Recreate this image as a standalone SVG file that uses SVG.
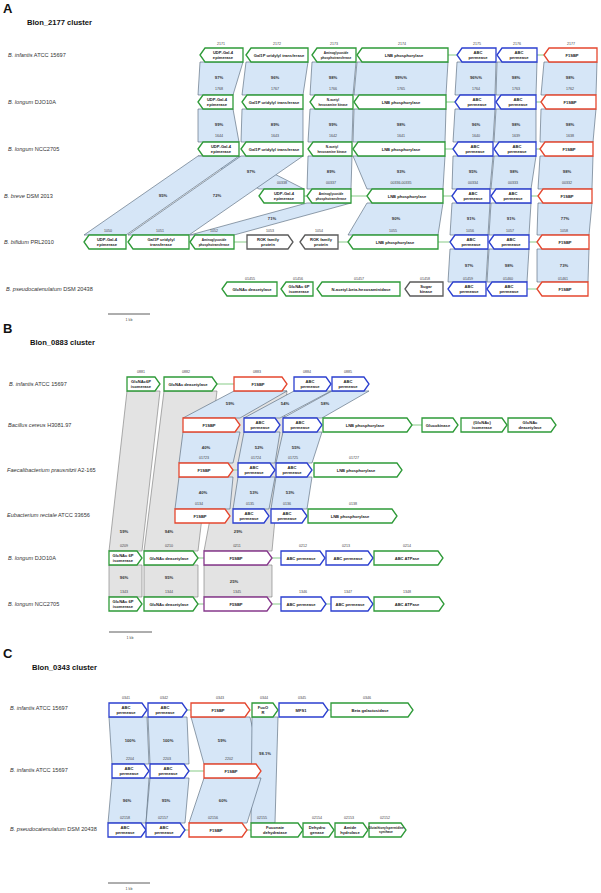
<svg xmlns="http://www.w3.org/2000/svg" width="601" height="893" viewBox="0 0 601 893">
<style>
text{font-family:"Liberation Sans",Arial,sans-serif}
.g,.b,.r,.k,.p{fill:#fff;stroke-width:1.3;stroke-linejoin:miter}
.g{stroke:#2e9a38}.b{stroke:#2b3fcf}.r{stroke:#e5472f}.k{stroke:#5a5a5a}.p{stroke:#86388c}
.band{fill:#d6e6f7;stroke:#4e5f72;stroke-width:0.6}
.gband{fill:#e3e3e3;stroke:#777;stroke-width:0.6}
.ln{stroke:#9bd49b;stroke-width:1.2}
.t{font-size:4.1px;font-weight:bold;text-anchor:middle;fill:#222}
.s{font-size:3.2px;font-weight:bold;text-anchor:middle;fill:#222}
.n{font-size:3.6px;text-anchor:middle;fill:#444}
.pc{font-size:4.2px;font-weight:bold;text-anchor:middle;fill:#333}
.sp{font-size:5.6px;fill:#333}
.ttl{font-size:7.6px;font-weight:bold;fill:#111}
.big{font-size:13px;font-weight:bold;fill:#111}
.sc{stroke:#333;stroke-width:0.8}
</style>

<!-- ================= PANEL A ================= -->
<text class="big" x="3" y="13">A</text>
<text class="ttl" x="27" y="25">Blon_2177 cluster</text>
<g id="A-labels">
<text class="sp" x="8" y="57"><tspan font-style="italic">B. infantis</tspan> ATCC 15697</text>
<text class="sp" x="8" y="104"><tspan font-style="italic">B. longum</tspan> DJO10A</text>
<text class="sp" x="8" y="151"><tspan font-style="italic">B. longum</tspan> NCC2705</text>
<text class="sp" x="4" y="198"><tspan font-style="italic">B. breve</tspan> DSM 2013</text>
<text class="sp" x="4" y="244"><tspan font-style="italic">B. bifidum</tspan> PRL2010</text>
<text class="sp" x="6" y="291"><tspan font-style="italic">B. pseudocatenulatum</tspan> DSM 20438</text>
</g>

<g id="A-connectors">
<polygon class="band" points="200,62 243,62 233,95 198,95"/>
<polygon class="band" points="246,62 308,62 303,95 242,95"/>
<polygon class="band" points="312,62 356,62 353,95 310,95"/>
<polygon class="band" points="357,62 448,62 446,95 354,95"/>
<polygon class="band" points="457,62 496,62 495,95 455,95"/>
<polygon class="band" points="497,62 537,62 536,95 496,95"/>
<polygon class="band" points="544,62 597,62 596,95 541,95"/>
<polygon class="band" points="198,109 233,109 239,142 198,142"/>
<polygon class="band" points="242,109 303,109 303,142 241,142"/>
<polygon class="band" points="310,109 353,109 352,142 308,142"/>
<polygon class="band" points="354,109 446,109 445,142 353,142"/>
<polygon class="band" points="455,109 495,109 493,142 453,142"/>
<polygon class="band" points="496,109 536,109 536,142 494,142"/>
<polygon class="band" points="541,109 596,109 593,142 540,142"/>
<polygon class="band" points="198,156 239,156 304,189 259,189"/>
<polygon class="band" points="198,156 239,156 126,235 84,235"/>
<polygon class="band" points="241,156 303,156 189,235 128,235"/>
<polygon class="band" points="308,156 352,156 351,189 307,189"/>
<polygon class="band" points="353,156 445,156 443,189 367,189"/>
<polygon class="band" points="453,156 493,156 490,189 452,189"/>
<polygon class="band" points="494,156 536,156 531,189 491,189"/>
<polygon class="band" points="540,156 593,156 592,189 538,189"/>
<polygon class="band" points="307,203 351,203 234,235 190,235"/>
<polygon class="band" points="367,203 443,203 438,235 348,235"/>
<polygon class="band" points="452,203 490,203 488,235 450,235"/>
<polygon class="band" points="491,203 531,203 529,235 489,235"/>
<polygon class="band" points="538,203 592,203 589,235 537,235"/>
<polygon class="band" points="450,249 488,249 486,282 448,282"/>
<polygon class="band" points="489,249 529,249 527,282 487,282"/>
<polygon class="band" points="537,249 589,249 588,282 537,282"/>
<line class="ln" x1="448" y1="55" x2="457" y2="55"/>
<line class="ln" x1="537" y1="55" x2="544" y2="55"/>
<line class="ln" x1="446" y1="102" x2="455" y2="102"/>
<line class="ln" x1="536" y1="102" x2="541" y2="102"/>
<line class="ln" x1="445" y1="149" x2="453" y2="149"/>
<line class="ln" x1="536" y1="149" x2="540" y2="149"/>
<line class="ln" x1="304" y1="196" x2="307" y2="196"/>
<line class="ln" x1="351" y1="196" x2="367" y2="196"/>
<line class="ln" x1="443" y1="196" x2="452" y2="196"/>
<line class="ln" x1="531" y1="196" x2="538" y2="196"/>
<line class="ln" x1="234" y1="242" x2="247" y2="242"/>
<line class="ln" x1="338" y1="242" x2="348" y2="242"/>
<line class="ln" x1="438" y1="242" x2="450" y2="242"/>
<line class="ln" x1="529" y1="242" x2="537" y2="242"/>
<line class="ln" x1="527" y1="289" x2="537" y2="289"/>
<g id="A-pct">
<text class="pc" x="219" y="79">97%</text><text class="pc" x="275" y="79">96%</text><text class="pc" x="333" y="79">98%</text><text class="pc" x="401" y="79">99%%</text><text class="pc" x="476" y="79">96%%</text><text class="pc" x="516" y="79">98%</text><text class="pc" x="570" y="79">98%</text>
<text class="n" x="219" y="90">1768</text><text class="n" x="275" y="90">1767</text><text class="n" x="333" y="90">1766</text><text class="n" x="401" y="90">1765</text><text class="n" x="476" y="90">1764</text><text class="n" x="516" y="90">1763</text><text class="n" x="570" y="90">1762</text>
<text class="pc" x="219" y="126">99%</text><text class="pc" x="275" y="126">89%</text><text class="pc" x="333" y="126">99%</text><text class="pc" x="401" y="126">98%</text><text class="pc" x="476" y="126">96%</text><text class="pc" x="516" y="126">98%</text><text class="pc" x="570" y="126">98%</text>
<text class="n" x="219" y="137">1644</text><text class="n" x="275" y="137">1643</text><text class="n" x="333" y="137">1642</text><text class="n" x="401" y="137">1641</text><text class="n" x="476" y="137">1640</text><text class="n" x="516" y="137">1639</text><text class="n" x="570" y="137">1638</text>
<text class="pc" x="251" y="173">97%</text><text class="pc" x="331" y="173">89%</text><text class="pc" x="401" y="173">93%</text><text class="pc" x="473" y="173">95%</text><text class="pc" x="514" y="173">98%</text><text class="pc" x="567" y="173">98%</text>
<text class="n" x="282" y="184">00338</text><text class="n" x="331" y="184">00337</text><text class="n" x="401" y="184">00336-00335</text><text class="n" x="473" y="184">00334</text><text class="n" x="513" y="184">00333</text><text class="n" x="567" y="184">00332</text>
<text class="pc" x="163" y="197">95%</text><text class="pc" x="217" y="197">72%</text>
<text class="pc" x="272" y="220">71%</text><text class="pc" x="396" y="220">90%</text><text class="pc" x="471" y="220">91%</text><text class="pc" x="511" y="220">91%</text><text class="pc" x="565" y="220">77%</text>
<text class="pc" x="469" y="267">97%</text><text class="pc" x="509" y="267">98%</text><text class="pc" x="564" y="267">73%</text>
</g>
</g>

<g id="A-nums">
<text class="n" x="221" y="45">2171</text><text class="n" x="277" y="45">2172</text><text class="n" x="334" y="45">2173</text><text class="n" x="402" y="45">2174</text><text class="n" x="477" y="45">2175</text><text class="n" x="517" y="45">2176</text><text class="n" x="571" y="45">2177</text>
<text class="n" x="108" y="232">1050</text><text class="n" x="160" y="232">1051</text><text class="n" x="214" y="232">1052</text><text class="n" x="270" y="232">1053</text><text class="n" x="319" y="232">1054</text><text class="n" x="393" y="232">1055</text><text class="n" x="470" y="232">1056</text><text class="n" x="510" y="232">1057</text><text class="n" x="564" y="232">1058</text>
<text class="n" x="250" y="280">01455</text><text class="n" x="298" y="280">01456</text><text class="n" x="359" y="280">01457</text><text class="n" x="425" y="280">01458</text><text class="n" x="468" y="280">01459</text><text class="n" x="508" y="280">01460</text><text class="n" x="563" y="280">01461</text>
</g>

<!-- Row A1 -->
<g id="a1-2171"><polygon class="g" points="200,55 205,48 243,48 243,62 205,62"/><text class="t" x="223" y="54">UDP-Gal-4</text><text class="t" x="223" y="59">epimerase</text></g>
<g id="a1-2172"><polygon class="g" points="246,55 251,48 308,48 308,62 251,62"/><text class="t" x="279" y="56.5" font-size="3.7">Gal1P uridylyl transferase</text></g>
<g id="a1-2173"><polygon class="g" points="312,55 317,48 356,48 356,62 317,62"/><text class="s" x="336" y="54">Aminoglycoside</text><text class="s" x="336" y="58.5" font-size="2.9">phosphotransferase</text></g>
<g id="a1-2174"><polygon class="g" points="357,55 362,48 448,48 448,62 362,62"/><text class="t" x="404" y="56.5">LNB phosphorylase</text></g>
<g id="a1-2175"><polygon class="b" points="457,55 462,48 496,48 496,62 462,62"/><text class="t" x="478" y="54">ABC</text><text class="t" x="478" y="59">permease</text></g>
<g id="a1-2176"><polygon class="b" points="497,55 502,48 537,48 537,62 502,62"/><text class="t" x="519" y="54">ABC</text><text class="t" x="519" y="59">permease</text></g>
<g id="a1-2177"><polygon class="r" points="544,55 549,48 597,48 597,62 549,62"/><text class="t" x="572" y="56.5">F1SBP</text></g>
<!-- Row A2 -->
<g id="a2-1"><polygon class="g" points="198,102 203,95 233,95 233,109 203,109"/><text class="t" x="217" y="101">UDP-Gal-4</text><text class="t" x="217" y="106">epimerase</text></g>
<g id="a2-2"><polygon class="g" points="242,102 247,95 303,95 303,109 247,109"/><text class="t" x="274" y="103.5" font-size="3.6">Gal1P uridylyl transferase</text></g>
<g id="a2-3"><polygon class="g" points="310,102 315,95 353,95 353,109 315,109"/><text class="s" x="333" y="101">N-acetyl</text><text class="s" x="333" y="105.5">hexosamine kinase</text></g>
<g id="a2-4"><polygon class="g" points="354,102 359,95 446,95 446,109 359,109"/><text class="t" x="401" y="103.5">LNB phosphorylase</text></g>
<g id="a2-5"><polygon class="b" points="455,102 460,95 495,95 495,109 460,109"/><text class="t" x="477" y="101">ABC</text><text class="t" x="477" y="106">permease</text></g>
<g id="a2-6"><polygon class="b" points="496,102 501,95 536,95 536,109 501,109"/><text class="t" x="518" y="101">ABC</text><text class="t" x="518" y="106">permease</text></g>
<g id="a2-7"><polygon class="r" points="541,102 546,95 596,95 596,109 546,109"/><text class="t" x="570" y="103.5">F1SBP</text></g>
<!-- Row A3 -->
<g id="a3-1"><polygon class="g" points="198,149 203,142 239,142 239,156 203,156"/><text class="t" x="221" y="148">UDP-Gal-4</text><text class="t" x="221" y="153">epimerase</text></g>
<g id="a3-2"><polygon class="g" points="241,149 246,142 303,142 303,156 246,156"/><text class="t" x="274" y="150.5" font-size="3.6">Gal1P uridylyl transferase</text></g>
<g id="a3-3"><polygon class="g" points="308,149 313,142 352,142 352,156 313,156"/><text class="s" x="332" y="148">N-acetyl</text><text class="s" x="332" y="152.5">hexosamine kinase</text></g>
<g id="a3-4"><polygon class="g" points="353,149 358,142 445,142 445,156 358,156"/><text class="t" x="401" y="150.5">LNB phosphorylase</text></g>
<g id="a3-5"><polygon class="b" points="453,149 458,142 493,142 493,156 458,156"/><text class="t" x="475" y="148">ABC</text><text class="t" x="475" y="153">permease</text></g>
<g id="a3-6"><polygon class="b" points="494,149 499,142 536,142 536,156 499,156"/><text class="t" x="517" y="148">ABC</text><text class="t" x="517" y="153">permease</text></g>
<g id="a3-7"><polygon class="r" points="540,149 545,142 593,142 593,156 545,156"/><text class="t" x="569" y="150.5">F1SBP</text></g>
<!-- Row A4 -->
<g id="a4-1"><polygon class="g" points="259,196 264,189 304,189 304,203 264,203"/><text class="t" x="284" y="195">UDP-Gal-4</text><text class="t" x="284" y="200">epimerase</text></g>
<g id="a4-2"><polygon class="g" points="307,196 312,189 351,189 351,203 312,203"/><text class="s" x="331" y="195">Aminoglycoside</text><text class="s" x="331" y="199.5" font-size="2.9">phosphotransferase</text></g>
<g id="a4-3"><polygon class="g" points="367,196 372,189 443,189 443,203 372,203"/><text class="t" x="407" y="197.5">LNB phosphorylase</text></g>
<g id="a4-4"><polygon class="b" points="452,196 457,189 490,189 490,203 457,203"/><text class="t" x="473" y="195">ABC</text><text class="t" x="473" y="200">permease</text></g>
<g id="a4-5"><polygon class="b" points="491,196 496,189 531,189 531,203 496,203"/><text class="t" x="513" y="195">ABC</text><text class="t" x="513" y="200">permease</text></g>
<g id="a4-6"><polygon class="r" points="538,196 543,189 592,189 592,203 543,203"/><text class="t" x="567" y="197.5">F1SBP</text></g>
<!-- Row A5 -->
<g id="a5-1050"><polygon class="g" points="84,242 89,235 126,235 126,249 89,249"/><text class="t" x="107" y="241">UDP-Gal-4</text><text class="t" x="107" y="246">epimerase</text></g>
<g id="a5-1051"><polygon class="g" points="128,242 133,235 189,235 189,249 133,249"/><text class="t" x="161" y="241">Gal1P uridylyl</text><text class="t" x="161" y="246">transferase</text></g>
<g id="a5-1052"><polygon class="g" points="190,242 195,235 234,235 234,249 195,249"/><text class="s" x="214" y="241">Aminoglycoside</text><text class="s" x="214" y="245.5" font-size="2.9">phosphotransferase</text></g>
<g id="a5-1053"><polygon class="k" points="247,235 288,235 293,242 288,249 247,249"/><text class="t" x="268" y="241">ROK family</text><text class="t" x="268" y="246">protein</text></g>
<g id="a5-1054"><polygon class="k" points="300,242 305,235 338,235 338,249 305,249"/><text class="t" x="321" y="241">ROK family</text><text class="t" x="321" y="246">protein</text></g>
<g id="a5-1055"><polygon class="g" points="348,242 353,235 438,235 438,249 353,249"/><text class="t" x="395" y="243.5">LNB phosphorylase</text></g>
<g id="a5-1056"><polygon class="b" points="450,242 455,235 488,235 488,249 455,249"/><text class="t" x="471" y="241">ABC</text><text class="t" x="471" y="246">permease</text></g>
<g id="a5-1057"><polygon class="b" points="489,242 494,235 529,235 529,249 494,249"/><text class="t" x="511" y="241">ABC</text><text class="t" x="511" y="246">permease</text></g>
<g id="a5-1058"><polygon class="r" points="537,242 542,235 589,235 589,249 542,249"/><text class="t" x="565" y="243.5">F1SBP</text></g>
<!-- Row A6 -->
<g id="a6-01455"><polygon class="g" points="222,289 227,282 277,282 277,296 227,296"/><text class="t" x="252" y="290.5">GlcNAc deacetylase</text></g>
<g id="a6-01456"><polygon class="g" points="281,289 286,282 313,282 313,296 286,296"/><text class="t" x="299" y="288" font-size="3.6">GlcNAc 6P</text><text class="t" x="299" y="293" font-size="3.6">isomerase</text></g>
<g id="a6-01457"><polygon class="g" points="317,289 322,282 400,282 400,296 322,296"/><text class="t" x="361" y="290.5" font-size="3.8">N-acetyl-beta-hexosaminidase</text></g>
<g id="a6-01458"><polygon class="k" points="405,289 410,282 443,282 443,296 410,296"/><text class="t" x="426" y="288">Sugar</text><text class="t" x="426" y="293">kinase</text></g>
<g id="a6-01459"><polygon class="b" points="448,289 453,282 486,282 486,296 453,296"/><text class="t" x="469" y="288">ABC</text><text class="t" x="469" y="293">permease</text></g>
<g id="a6-01460"><polygon class="b" points="487,289 492,282 527,282 527,296 492,296"/><text class="t" x="509" y="288">ABC</text><text class="t" x="509" y="293">permease</text></g>
<g id="a6-01461"><polygon class="r" points="537,289 542,282 588,282 588,296 542,296"/><text class="t" x="565" y="290.5">F1SBP</text></g>
<g id="A-scale"><line class="sc" x1="108" y1="314" x2="150" y2="314"/><text class="n" x="129" y="321">1 kb</text></g>

<!-- ================= PANEL B ================= -->
<text class="big" x="3" y="333">B</text>
<text class="ttl" x="30" y="345">Blon_0883 cluster</text>
<g id="B-labels">
<text class="sp" x="9" y="386"><tspan font-style="italic">B. infantis</tspan> ATCC 15697</text>
<text class="sp" x="8" y="427"><tspan font-style="italic">Bacillus cereus</tspan> H3081.97</text>
<text class="sp" x="7" y="472"><tspan font-style="italic">Faecalibacterium prausnitzii</tspan> A2-165</text>
<text class="sp" x="7" y="517"><tspan font-style="italic">Eubacterium rectale</tspan> ATCC 33656</text>
<text class="sp" x="8" y="560"><tspan font-style="italic">B. longum</tspan> DJO10A</text>
<text class="sp" x="8" y="606"><tspan font-style="italic">B. longum</tspan> NCC2705</text>
</g>
<g id="B-connectors">
<polygon class="gband" points="127,391 160,391 142,551 109,551"/>
<polygon class="gband" points="164,391 217,391 198,551 144,551"/>
<polygon class="gband" points="234,391 287,391 272,551 204,551"/>
<polygon class="gband" points="109,565 142,565 142,597 109,597"/>
<polygon class="gband" points="144,565 198,565 198,597 144,597"/>
<polygon class="gband" points="204,565 272,565 272,597 204,597"/>
<polygon class="band" points="234,391 287,391 240,418 183,418"/>
<polygon class="band" points="294,391 331,391 280,418 244,418"/>
<polygon class="band" points="332,391 369,391 322,418 283,418"/>
<polygon class="band" points="183,432 240,432 233,463 179,463"/>
<polygon class="band" points="244,432 280,432 275,463 238,463"/>
<polygon class="band" points="283,432 322,432 312,463 276,463"/>
<polygon class="band" points="179,477 233,477 230,509 175,509"/>
<polygon class="band" points="238,477 275,477 269,509 233,509"/>
<polygon class="band" points="276,477 312,477 307,509 271,509"/>
<line class="ln" x1="217" y1="384" x2="234" y2="384"/>
<line class="ln" x1="412" y1="425" x2="422" y2="425"/>
<line class="ln" x1="233" y1="470" x2="238" y2="470"/>
<line class="ln" x1="198" y1="558" x2="204" y2="558"/>
<line class="ln" x1="272" y1="558" x2="281" y2="558"/>
<line class="ln" x1="198" y1="604" x2="204" y2="604"/>
<line class="ln" x1="272" y1="604" x2="281" y2="604"/>
<line class="ln" x1="326" y1="604" x2="331" y2="604"/>
<g id="B-pct">
<text class="pc" x="230" y="405">59%</text><text class="pc" x="285" y="405">54%</text><text class="pc" x="325" y="405">58%</text>
<text class="pc" x="206" y="449">40%</text><text class="pc" x="259" y="449">52%</text><text class="pc" x="296" y="449">55%</text>
<text class="pc" x="203" y="494">40%</text><text class="pc" x="254" y="494">53%</text><text class="pc" x="290" y="494">53%</text>
<text class="pc" x="124" y="533">59%</text><text class="pc" x="169" y="533">94%</text><text class="pc" x="238" y="533">29%</text>
<text class="pc" x="124" y="579">96%</text><text class="pc" x="169" y="579">95%</text><text class="pc" x="234" y="583">25%</text>
</g>
</g>
<g id="B-nums">
<text class="n" x="141" y="373">0881</text><text class="n" x="186" y="373">0882</text><text class="n" x="257" y="373">0883</text><text class="n" x="307" y="373">0884</text><text class="n" x="348" y="373">0885</text>
<text class="n" x="204" y="459">01723</text><text class="n" x="256" y="459">01724</text><text class="n" x="293" y="459">01725</text><text class="n" x="354" y="459">01727</text>
<text class="n" x="199" y="505">0134</text><text class="n" x="250" y="505">0135</text><text class="n" x="287" y="505">0136</text><text class="n" x="353" y="505">0138</text>
<text class="n" x="124" y="547">0209</text><text class="n" x="169" y="547">0210</text><text class="n" x="237" y="547">0211</text><text class="n" x="303" y="547">0212</text><text class="n" x="346" y="547">0213</text><text class="n" x="407" y="547">0214</text>
<text class="n" x="124" y="593">1343</text><text class="n" x="169" y="593">1344</text><text class="n" x="237" y="593">1345</text><text class="n" x="303" y="593">1346</text><text class="n" x="348" y="593">1347</text><text class="n" x="407" y="593">1348</text>
</g>
<!-- B1 -->
<g id="b1-0881"><polygon class="g" points="127,377 155,377 160,384 155,391 127,391"/><text class="t" x="141" y="383" font-size="3.7">GlcNAc6P</text><text class="t" x="141" y="388" font-size="3.7">isomerase</text></g>
<g id="b1-0882"><polygon class="g" points="164,377 212,377 217,384 212,391 164,391"/><text class="t" x="188" y="385.5" font-size="3.7">GlcNAc deacetylase</text></g>
<g id="b1-0883"><polygon class="r" points="234,377 282,377 287,384 282,391 234,391"/><text class="t" x="258" y="385.5">F1SBP</text></g>
<g id="b1-0884"><polygon class="b" points="294,377 326,377 331,384 326,391 294,391"/><text class="t" x="310" y="383">ABC</text><text class="t" x="310" y="388">permease</text></g>
<g id="b1-0885"><polygon class="b" points="332,377 364,377 369,384 364,391 332,391"/><text class="t" x="348" y="383">ABC</text><text class="t" x="348" y="388">permease</text></g>
<!-- B2 -->
<g id="b2-1"><polygon class="r" points="183,418 235,418 240,425 235,432 183,432"/><text class="t" x="209" y="426.5">F1SBP</text></g>
<g id="b2-2"><polygon class="b" points="244,418 275,418 280,425 275,432 244,432"/><text class="t" x="260" y="424">ABC</text><text class="t" x="260" y="429">permease</text></g>
<g id="b2-3"><polygon class="b" points="283,418 317,418 322,425 317,432 283,432"/><text class="t" x="300" y="424">ABC</text><text class="t" x="300" y="429">permease</text></g>
<g id="b2-4"><polygon class="g" points="323,418 407,418 412,425 407,432 323,432"/><text class="t" x="365" y="426.5">LNB phosphorylase</text></g>
<g id="b2-5"><polygon class="g" points="422,418 453,418 458,425 453,432 422,432"/><text class="t" x="438" y="426.5">Glucokinase</text></g>
<g id="b2-6"><polygon class="g" points="461,418 502,418 507,425 502,432 461,432"/><text class="t" x="482" y="424">(GlcNAc)</text><text class="t" x="482" y="429">isomerase</text></g>
<g id="b2-7"><polygon class="g" points="508,418 551,418 556,425 551,432 508,432"/><text class="t" x="530" y="424">GlcNAc</text><text class="t" x="530" y="429">deacetylase</text></g>
<!-- B3 -->
<g id="b3-01723"><polygon class="r" points="179,463 228,463 233,470 228,477 179,477"/><text class="t" x="204" y="471.5">F1SBP</text></g>
<g id="b3-01724"><polygon class="b" points="238,463 270,463 275,470 270,477 238,477"/><text class="t" x="254" y="469">ABC</text><text class="t" x="254" y="474">permease</text></g>
<g id="b3-01725"><polygon class="b" points="276,463 307,463 312,470 307,477 276,477"/><text class="t" x="292" y="469">ABC</text><text class="t" x="292" y="474">permease</text></g>
<g id="b3-01727"><polygon class="g" points="314,463 397,463 402,470 397,477 314,477"/><text class="t" x="356" y="471.5">LNB phosphorylase</text></g>
<!-- B4 -->
<g id="b4-0134"><polygon class="r" points="175,509 225,509 230,516 225,523 175,523"/><text class="t" x="200" y="517.5">F1SBP</text></g>
<g id="b4-0135"><polygon class="b" points="233,509 264,509 269,516 264,523 233,523"/><text class="t" x="249" y="515">ABC</text><text class="t" x="249" y="520">permease</text></g>
<g id="b4-0136"><polygon class="b" points="271,509 302,509 307,516 302,523 271,523"/><text class="t" x="287" y="515">ABC</text><text class="t" x="287" y="520">permease</text></g>
<g id="b4-0138"><polygon class="g" points="308,509 392,509 397,516 392,523 308,523"/><text class="t" x="350" y="517.5">LNB phosphorylase</text></g>
<!-- B5 -->
<g id="b5-0209"><polygon class="g" points="109,551 137,551 142,558 137,565 109,565"/><text class="t" x="123" y="557" font-size="3.6">GlcNAc 6P</text><text class="t" x="123" y="562" font-size="3.6">isomerase</text></g>
<g id="b5-0210"><polygon class="g" points="144,551 193,551 198,558 193,565 144,565"/><text class="t" x="169" y="559.5" font-size="3.7">GlcNAc deacetylase</text></g>
<g id="b5-0211"><polygon class="p" points="204,551 267,551 272,558 267,565 204,565"/><text class="t" x="236" y="559.5">F5SBP</text></g>
<g id="b5-0212"><polygon class="b" points="281,551 320,551 325,558 320,565 281,565"/><text class="t" x="301" y="559.5">ABC permease</text></g>
<g id="b5-0213"><polygon class="b" points="326,551 368,551 373,558 368,565 326,565"/><text class="t" x="348" y="559.5">ABC permease</text></g>
<g id="b5-0214"><polygon class="g" points="374,551 438,551 443,558 438,565 374,565"/><text class="t" x="407" y="559.5">ABC ATPase</text></g>
<!-- B6 -->
<g id="b6-1343"><polygon class="g" points="109,597 137,597 142,604 137,611 109,611"/><text class="t" x="123" y="603" font-size="3.6">GlcNAc 6P</text><text class="t" x="123" y="608" font-size="3.6">isomerase</text></g>
<g id="b6-1344"><polygon class="g" points="144,597 193,597 198,604 193,611 144,611"/><text class="t" x="169" y="605.5" font-size="3.7">GlcNAc deacetylase</text></g>
<g id="b6-1345"><polygon class="p" points="204,597 267,597 272,604 267,611 204,611"/><text class="t" x="236" y="605.5">F5SBP</text></g>
<g id="b6-1346"><polygon class="b" points="281,597 321,597 326,604 321,611 281,611"/><text class="t" x="301" y="605.5">ABC permease</text></g>
<g id="b6-1347"><polygon class="b" points="331,597 368,597 373,604 368,611 331,611"/><text class="t" x="350" y="605.5">ABC permease</text></g>
<g id="b6-1348"><polygon class="g" points="374,597 439,597 444,604 439,611 374,611"/><text class="t" x="407" y="605.5">ABC ATPase</text></g>
<g id="B-scale"><line class="sc" x1="109" y1="632" x2="152" y2="632"/><text class="n" x="130" y="639">1 kb</text></g>

<!-- ================= PANEL C ================= -->
<text class="big" x="3" y="658">C</text>
<text class="ttl" x="32" y="670">Blon_0343 cluster</text>
<g id="C-labels">
<text class="sp" x="10" y="710"><tspan font-style="italic">B. infantis</tspan> ATCC 15697</text>
<text class="sp" x="10" y="772"><tspan font-style="italic">B. infantis</tspan> ATCC 15697</text>
<text class="sp" x="10" y="831"><tspan font-style="italic">B. pseudocatenulatum</tspan> DSM 20438</text>
</g>
<g id="C-connectors">
<polygon class="band" points="109,717 147,717 149,764 112,764"/>
<polygon class="band" points="148,717 187,717 189,764 150,764"/>
<polygon class="band" points="191,717 250,717 261,764 204,764"/>
<polygon class="band" points="252,717 278,717 275,823 251,823"/>
<polygon class="band" points="112,778 149,778 146,823 108,823"/>
<polygon class="band" points="150,778 189,778 185,823 146,823"/>
<polygon class="band" points="204,778 261,778 247,823 189,823"/>
<line class="ln" x1="187" y1="710" x2="191" y2="710"/>
<line class="ln" x1="328" y1="710" x2="331" y2="710"/>
<line class="ln" x1="189" y1="771" x2="204" y2="771"/>
<line class="ln" x1="185" y1="830" x2="189" y2="830"/>
<line class="ln" x1="247" y1="830" x2="251" y2="830"/>
<g id="C-pct">
<text class="pc" x="130" y="742">100%</text><text class="pc" x="168" y="742">100%</text><text class="pc" x="222" y="742">59%</text><text class="pc" x="265" y="755">98.1%</text>
<text class="pc" x="127" y="802">96%</text><text class="pc" x="166" y="802">95%</text><text class="pc" x="223" y="802">60%</text>
</g>
</g>
<g id="C-nums">
<text class="n" x="126" y="699">0341</text><text class="n" x="164" y="699">0342</text><text class="n" x="220" y="699">0343</text><text class="n" x="264" y="699">0344</text><text class="n" x="302" y="699">0345</text><text class="n" x="367" y="699">0346</text>
<text class="n" x="130" y="760">2204</text><text class="n" x="167" y="760">2203</text><text class="n" x="229" y="760">2202</text>
<text class="n" x="125" y="819">02158</text><text class="n" x="163" y="819">02157</text><text class="n" x="213" y="819">02156</text><text class="n" x="262" y="819">02155</text><text class="n" x="317" y="819">02154</text><text class="n" x="349" y="819">02153</text><text class="n" x="385" y="819">02152</text>
</g>
<!-- C1 -->
<g id="c1-0341"><polygon class="b" points="109,703 142,703 147,710 142,717 109,717"/><text class="t" x="126" y="709">ABC</text><text class="t" x="126" y="714">permease</text></g>
<g id="c1-0342"><polygon class="b" points="148,703 182,703 187,710 182,717 148,717"/><text class="t" x="165" y="709">ABC</text><text class="t" x="165" y="714">permease</text></g>
<g id="c1-0343"><polygon class="r" points="191,703 245,703 250,710 245,717 191,717"/><text class="t" x="218" y="711.5">F1SBP</text></g>
<g id="c1-0344"><polygon class="g" points="252,703 273,703 278,710 273,717 252,717"/><text class="t" x="263" y="709">FucO</text><text class="t" x="263" y="714">R</text></g>
<g id="c1-0345"><polygon class="b" points="279,703 323,703 328,710 323,717 279,717"/><text class="t" x="301" y="711.5">MFS1</text></g>
<g id="c1-0346"><polygon class="g" points="331,703 408,703 413,710 408,717 331,717"/><text class="t" x="370" y="711.5">Beta galactosidase</text></g>
<!-- C2 -->
<g id="c2-2204"><polygon class="b" points="112,764 144,764 149,771 144,778 112,778"/><text class="t" x="129" y="770">ABC</text><text class="t" x="129" y="775">permease</text></g>
<g id="c2-2203"><polygon class="b" points="150,764 184,764 189,771 184,778 150,778"/><text class="t" x="168" y="770">ABC</text><text class="t" x="168" y="775">permease</text></g>
<g id="c2-2202"><polygon class="r" points="204,764 256,764 261,771 256,778 204,778"/><text class="t" x="231" y="772.5">F1SBP</text></g>
<!-- C3 -->
<g id="c3-02158"><polygon class="b" points="108,823 141,823 146,830 141,837 108,837"/><text class="t" x="125" y="829">ABC</text><text class="t" x="125" y="834">permease</text></g>
<g id="c3-02157"><polygon class="b" points="146,823 180,823 185,830 180,837 146,837"/><text class="t" x="164" y="829">ABC</text><text class="t" x="164" y="834">permease</text></g>
<g id="c3-02156"><polygon class="r" points="189,823 242,823 247,830 242,837 189,837"/><text class="t" x="216" y="831.5">F1SBP</text></g>
<g id="c3-02155"><polygon class="g" points="251,823 298,823 303,830 298,837 251,837"/><text class="t" x="275" y="829">Fuconate</text><text class="t" x="275" y="834">dehydratase</text></g>
<g id="c3-02154"><polygon class="g" points="303,823 329,823 334,830 329,837 303,837"/><text class="t" x="317" y="829" font-size="4.4">Dehydro</text><text class="t" x="317" y="834" font-size="4.4">genase</text></g>
<g id="c3-02153"><polygon class="g" points="335,823 363,823 368,830 363,837 335,837"/><text class="t" x="350" y="829" font-size="4.4">Amide</text><text class="t" x="350" y="834" font-size="4.4">hydrolase</text></g>
<g id="c3-02152"><polygon class="g" points="369,823 401,823 406,830 401,837 369,837"/><text class="s" x="386" y="829" font-size="2.3">Glutathionylspermidine</text><text class="s" x="386" y="833" font-size="2.3">synthase</text></g>
<g id="C-scale"><line class="sc" x1="108" y1="883" x2="150" y2="883"/><text class="n" x="129" y="890">1 kb</text></g>
</svg>
